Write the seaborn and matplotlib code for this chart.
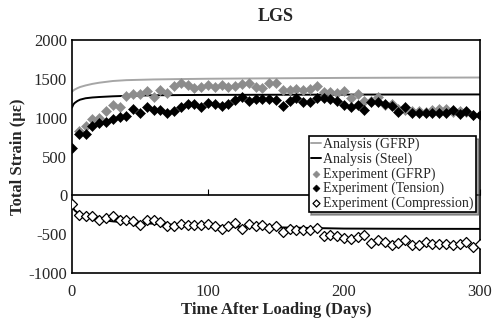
import numpy as np
import pandas as pd
import matplotlib
matplotlib.use("Agg")
import matplotlib.pyplot as plt
import seaborn as sns

sns.set_style("white")
plt.rcParams['font.family'] = ['Liberation Serif', 'DejaVu Serif']
plt.rcParams['axes.unicode_minus'] = False

# experiment days (every 5 days)
days = list(range(0, 301, 5))

exp_gfrp = [np.nan, 826, 890, 981, 998, 1084, 1161, 1140, 1282, 1299,
            1299, 1342, 1269, 1355, 1320, 1406, 1441, 1419, 1376, 1389,
            1419, 1398, 1419, 1398, 1406, 1428, 1450, 1398, 1376, 1441,
            1450, 1355, 1355, 1363, 1355, 1363, 1406, 1333, 1333, 1312,
            1346, 1256, 1299, 1213, 1220, 1269, 1160, 1180, 1110, 1100,
            1090, 1080, 1070, 1100, 1110, 1110, 1070, 1090, 1070, 1040,
            1030]

exp_tension = [610, 796, 796, 890, 925, 946, 977, 1011, 1019, 1110,
               1062, 1140, 1097, 1097, 1054, 1084, 1140, 1170, 1170, 1131,
               1191, 1170, 1148, 1170, 1226, 1260, 1217, 1235, 1239, 1239,
               1226, 1148, 1217, 1248, 1204, 1204, 1256, 1256, 1235, 1213,
               1161, 1140, 1161, 1105, 1204, 1204, 1174, 1148, 1075, 1140,
               1054, 1054, 1054, 1054, 1060, 1062, 1097, 1049, 1088, 1028,
               1028]

exp_compression = [-107, -249, -271, -271, -314, -288, -271, -323, -323, -335,
                   -378, -318, -323, -340, -396, -396, -366, -378, -387, -387,
                   -366, -400, -439, -396, -353, -430, -366, -396, -387, -422,
                   -396, -473, -430, -452, -443, -452, -422, -525, -508, -525,
                   -551, -568, -538, -516, -611, -581, -602, -637, -615, -581,
                   -645, -645, -602, -624, -624, -632, -637, -624, -602, -667,
                   -632]

# analysis curves
ana_days = [0, 1, 2, 4, 6, 10, 15, 20, 30, 40, 60, 80, 100, 150, 200, 250, 300]
ana_gfrp = [1335, 1350, 1362, 1380, 1395, 1415, 1435, 1450, 1472, 1483,
            1492, 1497, 1501, 1507, 1512, 1515, 1517]
ana_steel = [1130, 1170, 1190, 1215, 1232, 1250, 1260, 1266, 1275, 1281,
             1288, 1291, 1293, 1295, 1297, 1298, 1299]
ana_comp = [-129, -170, -195, -222, -240, -268, -298, -315, -335, -350,
            -365, -383, -396, -412, -428, -431, -432]

ana = pd.DataFrame({"day": ana_days, "gfrp": ana_gfrp,
                    "steel": ana_steel, "comp": ana_comp})
exp = pd.DataFrame({"day": days, "gfrp": exp_gfrp,
                    "tension": exp_tension, "comp": exp_compression})

fig = plt.figure(figsize=(5.01, 3.21), dpi=100)
ax = fig.add_axes([0.1437, 0.1495, 0.8143, 0.7259])

sns.lineplot(data=ana, x="day", y="gfrp", color="#a6a6a6", lw=1.4, ax=ax,
             label="Analysis (GFRP)")
sns.lineplot(data=ana, x="day", y="steel", color="black", lw=1.4, ax=ax,
             label="Analysis (Steel)")
sns.lineplot(data=ana, x="day", y="comp", color="black", lw=1.4, ax=ax,
             label="_nolegend_")
sns.scatterplot(data=exp, x="day", y="gfrp", marker="D", color="#8c8c8c",
                s=26, edgecolor="#8c8c8c", ax=ax, label="Experiment (GFRP)",
                zorder=3)
sns.scatterplot(data=exp, x="day", y="tension", marker="D", color="black",
                s=26, edgecolor="black", ax=ax, label="Experiment (Tension)",
                zorder=4)
sns.scatterplot(data=exp, x="day", y="comp", marker="D", facecolor="white",
                s=26, edgecolor="black", linewidth=0.9, ax=ax,
                label="Experiment (Compression)", zorder=4)

ax.set_xlim(0, 300)
ax.set_ylim(-1000, 2000)
ax.set_xticks([0, 100, 200, 300])
ax.set_yticks(range(-1000, 2001, 500))
ax.tick_params(axis="y", direction="in", length=4, labelsize=12, color="black")
ax.tick_params(axis="x", length=0, labelsize=12, pad=8)
for sp in ax.spines.values():
    sp.set_color("black")
    sp.set_linewidth(1.2)

# horizontal axis crossing at zero
zero = ax.secondary_xaxis(1 / 3)
zero.set_xticks([100, 200, 300])
zero.tick_params(direction="in", length=4, labelbottom=False, color="black")
zero.spines["bottom"].set_linewidth(1.2)
zero.spines["bottom"].set_color("black")

ax.set_title("LGS", fontsize=13, fontweight="bold", pad=14)
ax.set_xlabel("Time After Loading (Days)", fontsize=12, fontweight="bold",
              labelpad=1)
ax.set_ylabel("Total Strain (\u03bc\u03b5)", fontsize=12, fontweight="bold",
              labelpad=2)

leg = ax.legend(loc="lower right", bbox_to_anchor=(0.99, 0.262), fontsize=10,
                frameon=True, fancybox=False, shadow=True, handlelength=0.7,
                handletextpad=0.2, labelspacing=0.08, borderpad=0.15,
                borderaxespad=0, markerscale=0.7)
leg.get_frame().set_edgecolor("black")
leg.get_frame().set_linewidth(1.2)
leg.set_zorder(10)

fig.savefig("out.png", dpi=100)
